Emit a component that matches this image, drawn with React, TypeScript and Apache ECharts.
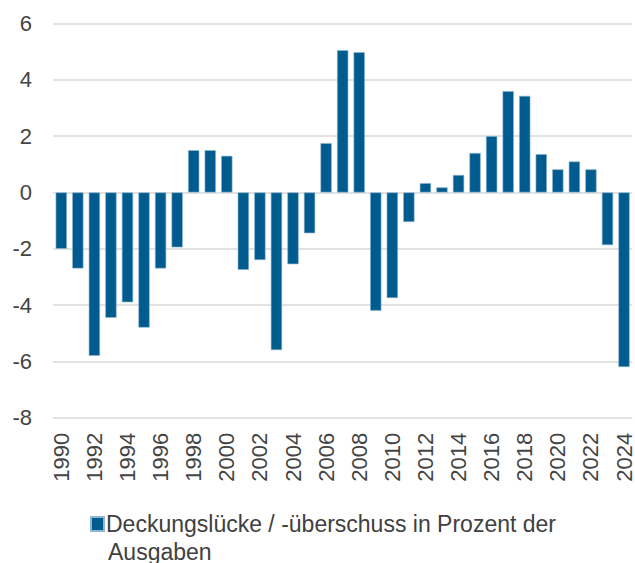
import React, { useEffect, useRef } from "react";
import * as echarts from "echarts";

const years = [
  "1990", "1991", "1992", "1993", "1994", "1995", "1996", "1997", "1998", "1999",
  "2000", "2001", "2002", "2003", "2004", "2005", "2006", "2007", "2008", "2009",
  "2010", "2011", "2012", "2013", "2014", "2015", "2016", "2017", "2018", "2019",
  "2020", "2021", "2022", "2023", "2024",
];

const values = [
  -2.0, -2.7, -5.8, -4.45, -3.9, -4.8, -2.7, -1.95, 1.5, 1.5,
  1.3, -2.75, -2.4, -5.6, -2.55, -1.45, 1.75, 5.05, 4.98, -4.2,
  -3.75, -1.05, 0.33, 0.18, 0.62, 1.4, 2.0, 3.6, 3.43, 1.36,
  0.82, 1.1, 0.82, -1.87, -6.2,
];

const seriesName = "Deckungslücke / -überschuss in Prozent der";
const legendSecondLine = "Ausgaben";

const yMin = -8;
const yMax = 6;
const yInterval = 2;

const FONT = '"Liberation Sans", Arial, sans-serif';

export default function App() {
  const ref = useRef<HTMLDivElement>(null);

  useEffect(() => {
    document.body.style.margin = "0";
    if (!ref.current) return;
    const chart = echarts.init(ref.current, null, { renderer: "svg" });
    chart.setOption({
      animation: false,
      textStyle: { fontFamily: FONT },
      grid: { left: 53, right: 0, top: 23.5, bottom: 145.3, containLabel: false },
      xAxis: {
        type: "category",
        data: years,
        axisLine: { show: false },
        axisTick: { show: false },
        axisLabel: {
          interval: 1,
          rotate: 90,
          margin: 15,
          fontSize: 22,
          color: "#444444",
          fontFamily: FONT,
        },
        splitLine: { show: false },
      },
      yAxis: {
        type: "value",
        min: yMin,
        max: yMax,
        interval: yInterval,
        axisLine: { show: false },
        axisTick: { show: false },
        axisLabel: {
          margin: 21,
          fontSize: 22,
          color: "#444444",
          fontFamily: FONT,
        },
        splitLine: { lineStyle: { color: "#d9d9d9", width: 1.5 } },
      },
      legend: {
        left: 90,
        top: 512,
        padding: 0,
        itemWidth: 13,
        itemHeight: 14,
        itemGap: 10,
        icon: "rect",
        textStyle: {
          fontSize: 23,
          lineHeight: 24,
          color: "#404040",
          fontFamily: FONT,
          padding: [0, 0, 0, -3],
        },
        data: [seriesName],
      },
      graphic: [
        {
          type: "text",
          left: 108,
          top: 540,
          style: {
            text: legendSecondLine,
            fontSize: 23,
            lineHeight: 24,
            fill: "#404040",
            fontFamily: FONT,
          },
        },
      ],
      series: [
        {
          name: seriesName,
          type: "bar",
          data: values,
          barCategoryGap: "32%",
          itemStyle: { color: "#005b8e", borderColor: "#8fb6d0", borderWidth: 0.6 },
        },
      ],
    });
    return () => chart.dispose();
  }, []);

  return (
    <div
      ref={ref}
      style={{ position: "absolute", left: 0, top: 0, width: 635, height: 563 }}
    />
  );
}
